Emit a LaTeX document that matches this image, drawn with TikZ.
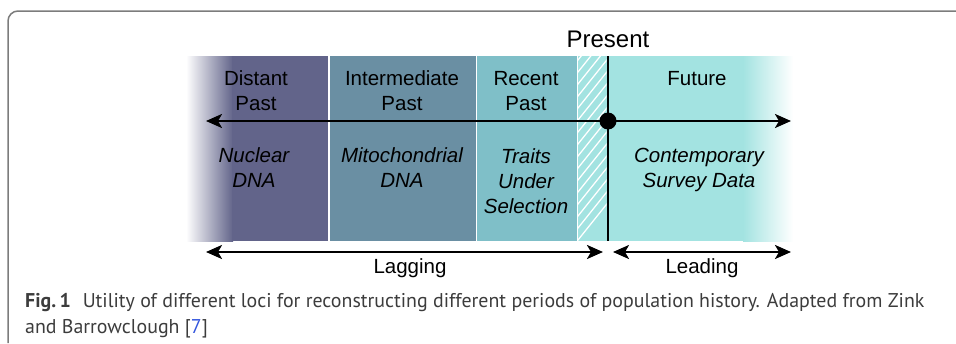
\documentclass[tikz,border=0pt]{standalone}
\usepackage{fontspec}
\setmainfont{Liberation Sans}
\newfontfamily\capfont{PT Sans}
\usetikzlibrary{arrows.meta,positioning}

\definecolor{distant}{HTML}{62648A}
\definecolor{intermediate}{HTML}{6A8FA3}
\definecolor{recent}{HTML}{7FBFC8}
\definecolor{future}{HTML}{A3E3E1}
\definecolor{framegray}{HTML}{7C7C7C}
\definecolor{capgray}{HTML}{3C3C3C}
\definecolor{citeblue}{HTML}{3355DD}

\tikzset{
	period/.style={align=center, inner sep=0pt, anchor=base, font=\fontsize{20.5}{25}\selectfont},
	locus/.style={period, font=\fontsize{20.5}{25}\selectfont\itshape},
	tip/.tip={Stealth[length=16pt, width=14pt, inset=4pt]},
	timeline/.style={line width=2.4pt, tip-tip},
}

\begin{document}
\begin{tikzpicture}[x=1pt, y=-1pt]
	\useasboundingbox (0,0) rectangle (956,343);
	% frame
	\draw[framegray, line width=1.5pt, rounded corners=10pt] (8,343) -- (8,11) -- (956,11);
	
	% periods
	\shade[left color=white, right color=distant] (186,56) rectangle (233,241);
	\fill[distant] (232,56) rectangle (328,241);
	\fill[intermediate] (330,56) rectangle (475.5,241);
	\fill[recent] (477,56) rectangle (576.5,241);
	\fill[future] (578,56) rectangle (744,241);
	\shade[left color=future, right color=white] (743,56) rectangle (793,241);
	\begin{scope}
		\clip (578,56) rectangle (606.5,241);
		\foreach \k in {0,...,20}
			\draw[white, line width=1.3pt] (570,250-12*\k) -- ++(40,-50);
	\end{scope}
	
	% labels (base = last line)
	\node[period] (distant) at (256,110) {Distant\\Past};
	\node[period] (intermediate) at (402,110) {Intermediate\\Past};
	\node[period] (recent) at (526,110) {Recent\\Past};
	\node[period] (future) at (697,85) {Future};
	\node[period, font=\fontsize{24}{28}\selectfont] (present) at (608,47) {Present};
	
	\node[locus] (nuclear) at (254,187) {Nuclear\\DNA};
	\node[locus] (mito) at (402,187) {Mitochondrial\\DNA};
	\node[locus] (traits) at (526,213) {Traits\\Under\\Selection};
	\node[locus] (survey) at (699,187) {Contemporary\\Survey Data};
	
	% time axis
	\coordinate (now) at (608,121);
	\coordinate (past) at (206,121);
	\coordinate (later) at (791,121);
	\draw[line width=2.6pt] (608,56) -- (608,241);
	\draw[timeline, -tip] (now) -- (past);
	\draw[timeline, -tip] (now) -- (later);
	\fill (now) circle (8.5);
	
	% lagging / leading
	\coordinate (lagL) at (206,252);
	\coordinate (lagR) at (603,252);
	\coordinate (leadL) at (613,252);
	\coordinate (leadR) at (791,252);
	\draw[timeline] (lagL) -- (lagR);
	\draw[timeline] (leadL) -- (leadR);
	\node[period] (lagging) at (410,273) {Lagging};
	\node[period] (leading) at (702,273) {Leading};
	
	% caption
	\node[anchor=base west, inner sep=0pt, text=capgray, font=\capfont\fontsize{19.9}{26}\selectfont, align=left] (caption) at (25,333)
		{\textbf{Fig.\,1}\hspace{0.6em}Utility of different loci for reconstructing different periods of population history. Adapted from Zink\\and Barrowclough [{\color{citeblue}7}]};
\end{tikzpicture}
\end{document}
